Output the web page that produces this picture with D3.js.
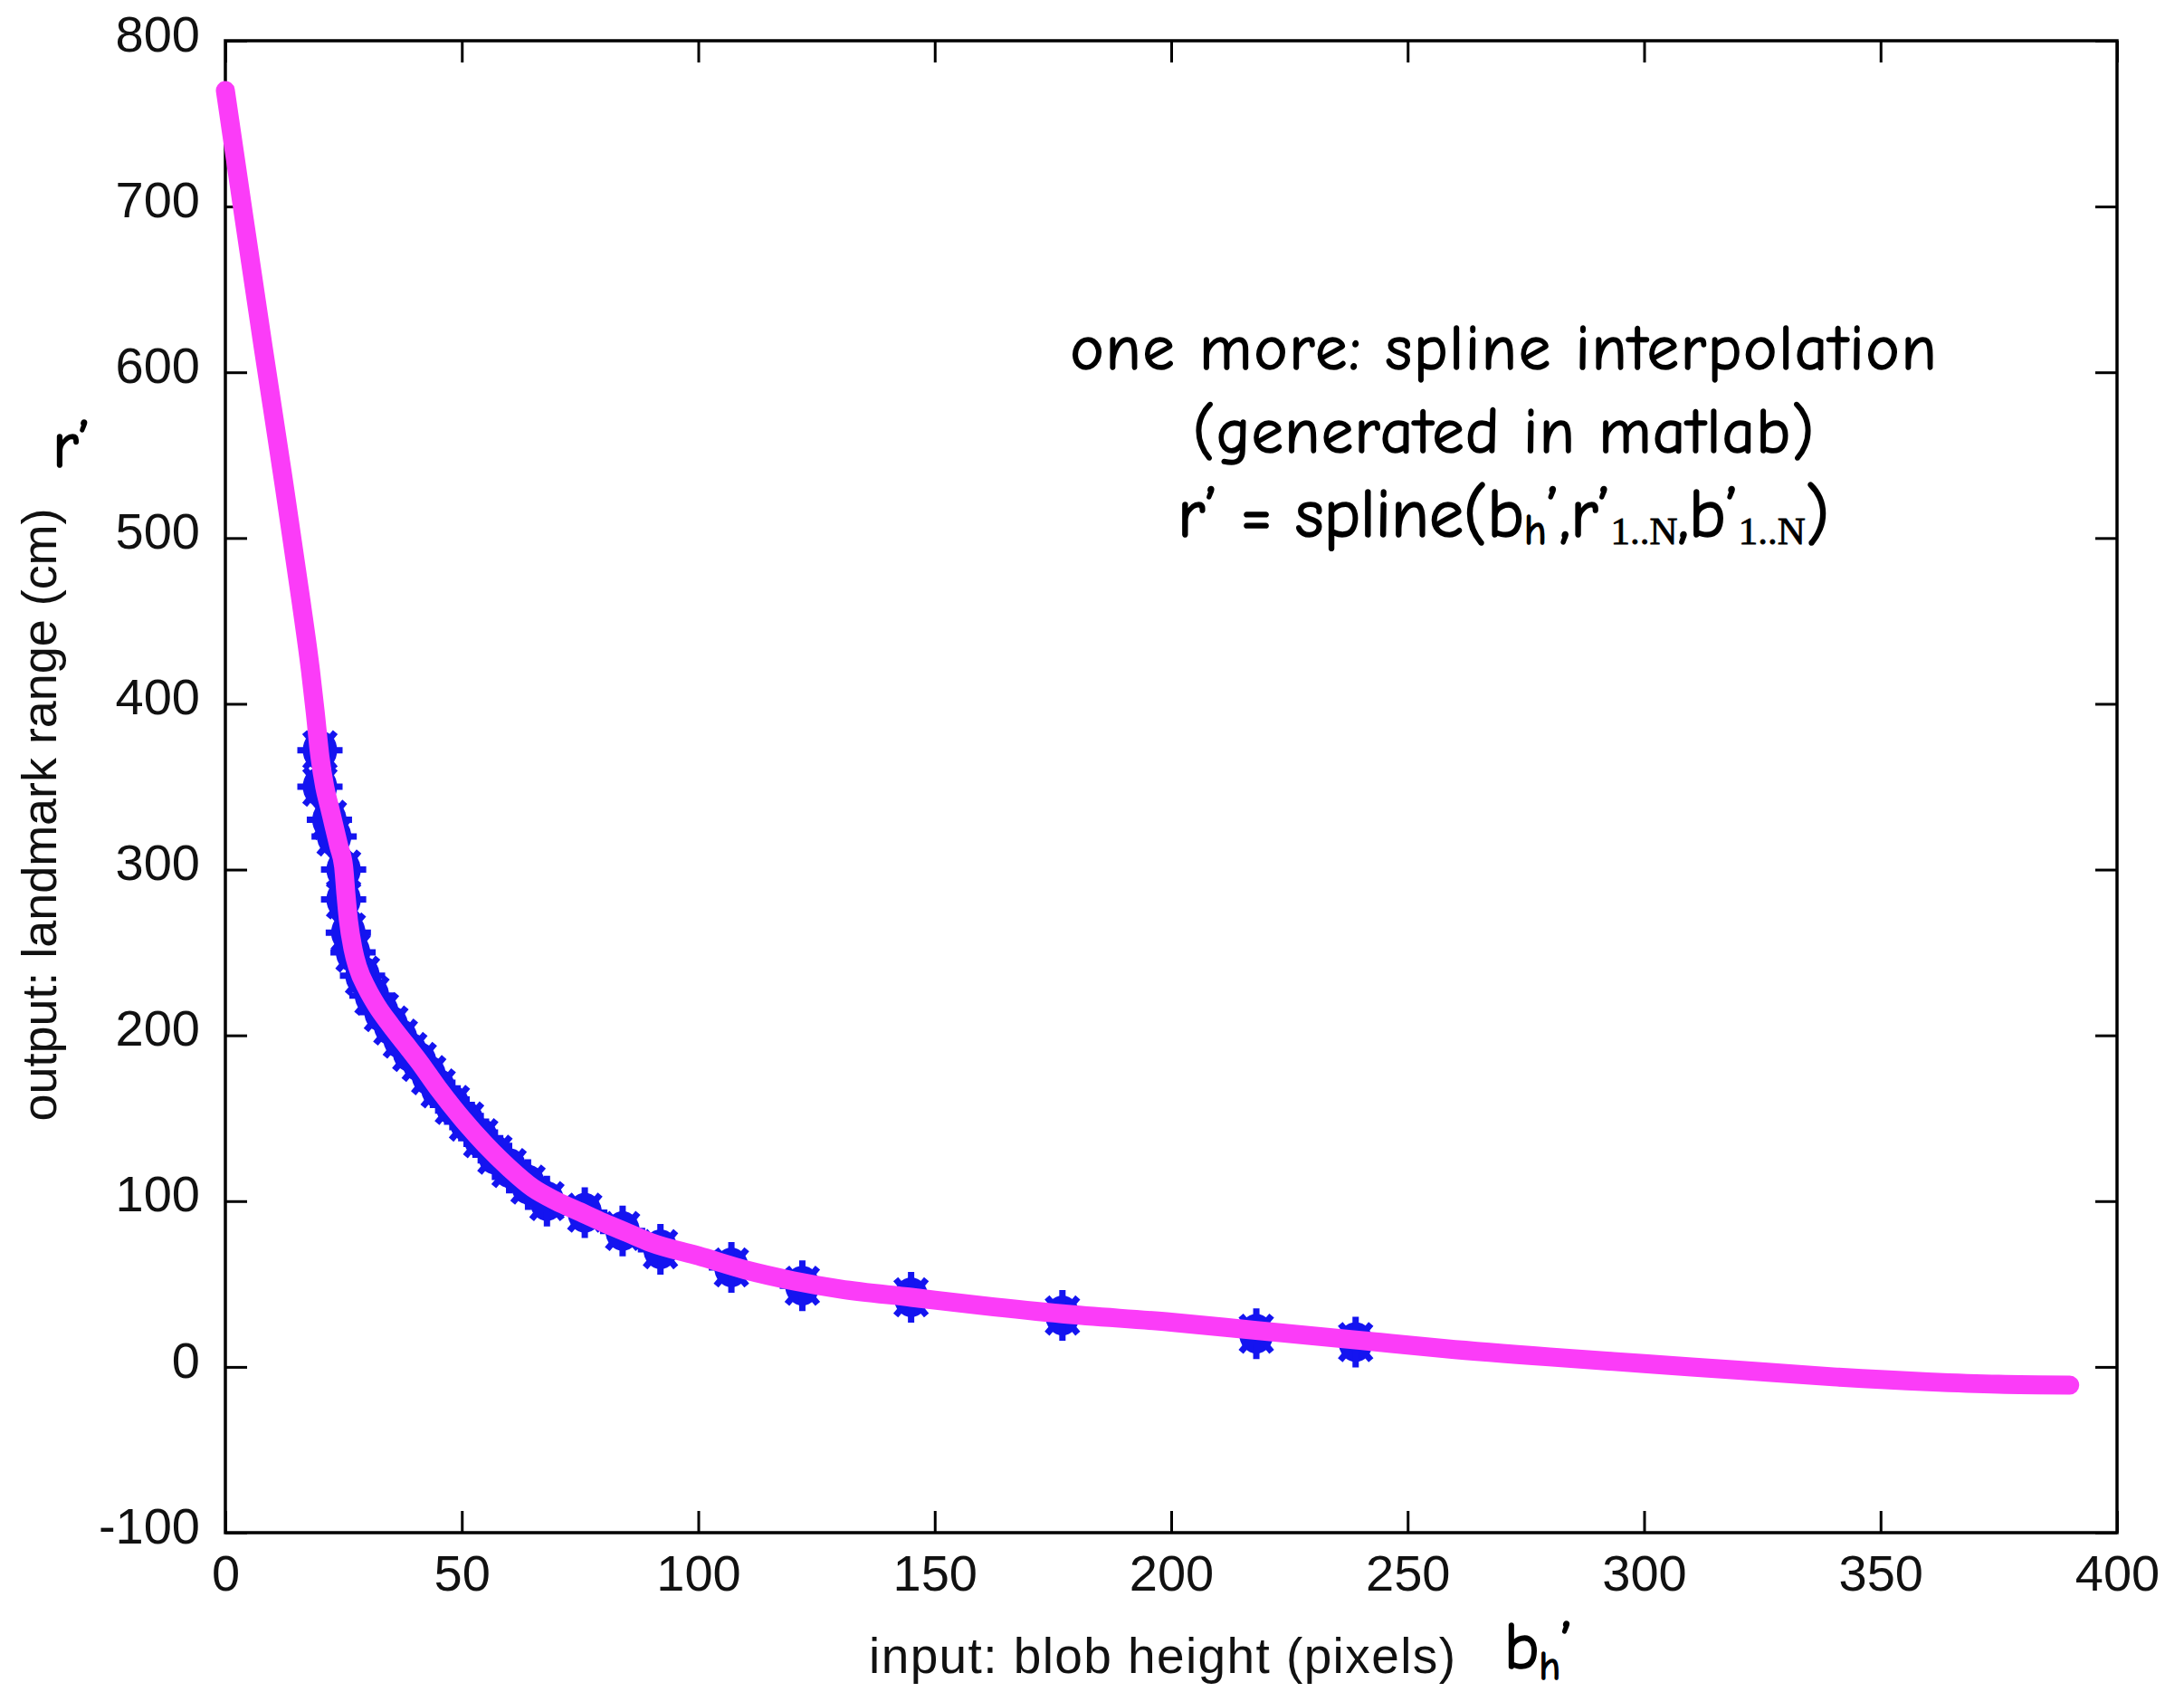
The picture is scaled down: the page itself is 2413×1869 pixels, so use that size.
<!DOCTYPE html>
<html>
<head>
<meta charset="utf-8">
<script src="https://cdn.jsdelivr.net/npm/d3@7"></script>
<style>
  body { margin: 0; background: #fff; }
  svg { display: block; }
  .tick text { font-family: "Liberation Sans", Arial, sans-serif; fill: #111; }
  .hand { font-family: "Comic Sans MS", "Comic Neue", Lato, sans-serif; fill: #000; stroke: #000; stroke-width: 1.6; }
</style>
</head>
<body>
<svg width="2413" height="1869"></svg>
<script>
// magenta spline curve
let curveX = [0, 4, 8, 12, 16, 18, 19, 20, 21, 22, 23, 24, 25, 25.5, 26, 27, 28, 30, 32, 35, 38, 41, 45, 50, 55, 60, 65, 70, 75, 80, 85, 90, 100, 110, 120, 130, 145, 160, 177, 200, 218, 240, 258, 280, 300, 320, 340, 360, 375, 390];
let curveR = [770, 692, 615, 540, 462, 420, 395, 368, 350, 338, 326, 314, 302, 285, 270, 252, 241, 228, 218, 206, 195, 184, 168, 150, 134, 120, 108, 100, 93.5, 87, 81, 75, 67, 58.5, 52, 47, 42, 37, 32, 27, 22, 16, 11, 6, 2, -2, -6, -9, -10.5, -11];

// blue measured points
let pointX = [20, 20, 22, 23, 25, 25, 26, 27, 29, 31, 33, 35, 37, 39, 41, 43, 45, 48, 51, 54, 57, 60, 64, 68, 76, 84, 92, 107, 122, 145, 177, 218, 239];
let pointR = [372, 350, 330, 320, 300, 282, 262, 250, 236, 224, 214, 206, 198, 190, 184, 176, 168, 158, 148, 138, 128, 120, 110, 100, 93, 82, 71, 60, 49, 42, 31, 20, 15];

let xTicks = [0, 50, 100, 150, 200, 250, 300, 350, 400];
let yTicks = [-100, 0, 100, 200, 300, 400, 500, 600, 700, 800];

let plotLeft = 249, plotRight = 2339, plotTop = 45, plotBottom = 1693;
let tickLen = 24;

let svg = d3.select('svg');

let x = d3.scaleLinear().domain([0, 400]).range([plotLeft, plotRight]);
let y = d3.scaleLinear().domain([-100, 800]).range([plotBottom, plotTop]);

// axes, ticks pointing inward on all four sides
function styleAxis(g) {
  g.select('.domain').remove();
  g.selectAll('.tick line').attr('stroke', '#000').attr('stroke-width', 3);
  g.selectAll('.tick text').attr('font-size', 56);
}

let plain = function(d) { return String(d); };

svg.append('g')
  .attr('transform', 'translate(0,' + plotBottom + ')')
  .call(d3.axisBottom(x).tickValues(xTicks).tickFormat(plain).tickSizeInner(-tickLen).tickSizeOuter(0).tickPadding(24))
  .call(styleAxis);

svg.append('g')
  .attr('transform', 'translate(' + plotLeft + ',0)')
  .call(d3.axisLeft(y).tickValues(yTicks).tickFormat(plain).tickSizeInner(-tickLen).tickSizeOuter(0).tickPadding(28))
  .call(styleAxis)
  .selectAll('.tick text').attr('dy', '0.2em');

svg.append('g')
  .attr('transform', 'translate(0,' + plotTop + ')')
  .call(d3.axisTop(x).tickValues(xTicks).tickSizeInner(-tickLen).tickSizeOuter(0).tickFormat(''))
  .call(styleAxis);

svg.append('g')
  .attr('transform', 'translate(' + plotRight + ',0)')
  .call(d3.axisRight(y).tickValues(yTicks).tickSizeInner(-tickLen).tickSizeOuter(0).tickFormat(''))
  .call(styleAxis);

svg.append('rect')
  .attr('x', plotLeft)
  .attr('y', plotTop)
  .attr('width', plotRight - plotLeft)
  .attr('height', plotBottom - plotTop)
  .attr('fill', 'none')
  .attr('stroke', '#000')
  .attr('stroke-width', 3.5);

// blue '*' markers
let pts = pointX.map(function(d, i) { return { x: d, r: pointR[i] }; });

let marks = svg.append('g').attr('class', 'points')
  .selectAll('g')
  .data(pts)
  .join('g')
  .attr('transform', function(d) {
    return 'translate(' + x(d.x) + ',' + y(d.r) + ')';
  });

marks.append('ellipse')
  .attr('rx', 19)
  .attr('ry', 22)
  .attr('fill', '#1414f0');

marks.append('path')
  .attr('d', 'M0,-28L0,28M-25,0L25,0M-17,-20L17,20M17,-20L-17,20')
  .attr('stroke', '#1414f0')
  .attr('stroke-width', 7)
  .attr('fill', 'none');

// magenta spline drawn as a thick band of markers
let curve = curveX.map(function(d, i) { return { x: d, r: curveR[i] }; });

svg.append('path')
  .datum(curve)
  .attr('fill', 'none')
  .attr('stroke', '#fb3cf8')
  .attr('stroke-width', 21)
  .attr('stroke-linejoin', 'round')
  .attr('stroke-linecap', 'round')
  .attr('d', d3.line()
    .x(function(d) { return x(d.x); })
    .y(function(d) { return y(d.r); })
    .curve(d3.curveMonotoneX));

// axis titles
svg.append('text')
  .attr('x', 1284)
  .attr('y', 1848)
  .attr('text-anchor', 'middle')
  .attr('font-family', '"Liberation Sans", Arial, sans-serif')
  .attr('font-size', 55)
  .attr('fill', '#111')
  .attr('textLength', 648)
  .text('input: blob height (pixels)');

svg.append('text')
  .attr('transform', 'translate(62,900) rotate(-90)')
  .attr('text-anchor', 'middle')
  .attr('font-family', '"Liberation Sans", Arial, sans-serif')
  .attr('font-size', 54)
  .attr('fill', '#111')
  .attr('textLength', 677)
  .text('output: landmark range (cm)');

// hand-written style notes
svg.append('text')
  .attr('class', 'hand')
  .attr('x', 58)
  .attr('y', 516)
  .attr('font-size', 72)
  .text('r’');

let bh = svg.append('text')
  .attr('class', 'hand')
  .attr('x', 1662)
  .attr('y', 1843)
  .attr('font-size', 72);
bh.append('tspan').text('b');
bh.append('tspan').attr('font-size', 44).attr('dy', 12).text('h');
bh.append('tspan').attr('dy', -12).text('’');

let noteX = 1661;

svg.append('text')
  .attr('class', 'hand')
  .attr('x', noteX)
  .attr('y', 408)
  .attr('text-anchor', 'middle')
  .attr('font-size', 70)
  .attr('textLength', 957)
  .text('one more: spline interpolation');

svg.append('text')
  .attr('class', 'hand')
  .attr('x', noteX)
  .attr('y', 500)
  .attr('text-anchor', 'middle')
  .attr('font-size', 70)
  .attr('textLength', 686)
  .text('(generated in matlab)');

let eq = svg.append('text')
  .attr('class', 'hand')
  .attr('x', noteX)
  .attr('y', 593)
  .attr('text-anchor', 'middle')
  .attr('font-size', 76);
eq.append('tspan').text('r’ = spline(b');
eq.append('tspan').attr('font-size', 46).attr('dy', 8).text('h');
eq.append('tspan').attr('dy', -8).text('’,r’');
eq.append('tspan').attr('font-size', 43).attr('stroke-width', 0.8).attr('font-family', '"Liberation Serif", serif').attr('dy', 8).text('1..N');
eq.append('tspan').attr('dy', -8).text(',b’');
eq.append('tspan').attr('font-size', 43).attr('stroke-width', 0.8).attr('font-family', '"Liberation Serif", serif').attr('dy', 8).text('1..N');
eq.append('tspan').attr('dy', -8).text(')');
</script>
</body>
</html>
